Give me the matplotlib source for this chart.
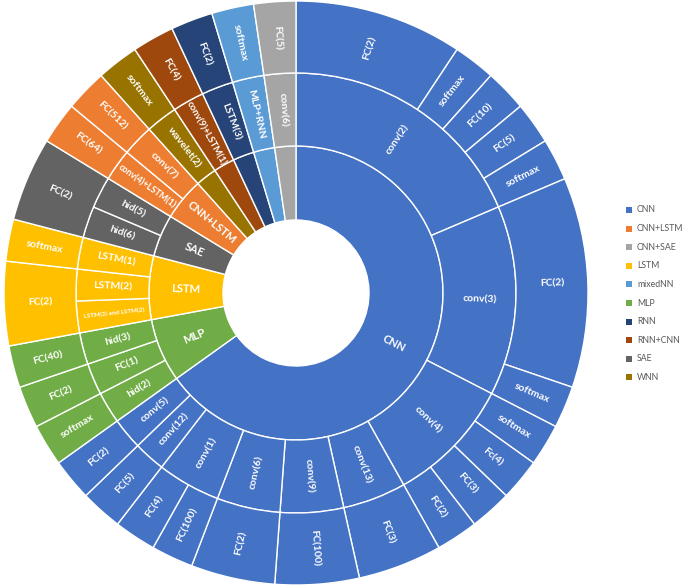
import matplotlib
matplotlib.use('Agg')
import matplotlib.pyplot as plt
from matplotlib.patches import Wedge, Rectangle
import numpy as np

# ---- data (clockwise from 12 o'clock) ----
groups = ['CNN', 'MLP', 'LSTM', 'SAE', 'CNN+LSTM', 'WNN', 'RNN+CNN', 'RNN', 'mixedNN', 'CNN+SAE']
group_values = [28, 3, 3, 2, 2, 1, 1, 1, 1, 1]

layer_labels = ['conv(2)', 'conv(3)', 'conv(4)', 'conv(13)', 'conv(9)', 'conv(6)', 'conv(1)', 'conv(12)', 'conv(5)',
                'hid(2)', 'FC(1)', 'hid(3)',
                'LSTM(3) and LSTM(2)', 'LSTM(2)', 'LSTM(1)',
                'hid(6)', 'hid(5)',
                'conv(4)+LSTM(1)', 'conv(7)',
                'wavelet(2)', 'conv(9)+LSTM(1)', 'LSTM(3)', 'MLP+RNN', 'conv(6)']
layer_values = [8, 6, 4, 2, 2, 2, 2, 1, 1,
                1, 1, 1,
                1, 1, 1,
                1, 1,
                1, 1,
                1, 1, 1, 1, 1]

out_labels = ['FC(2)', 'softmax', 'FC(10)', 'FC(5)', 'softmax', 'FC(2)', 'softmax', 'softmax', 'Fc(4)', 'FC(3)',
              'FC(2)', 'FC(3)', 'FC(100)', 'FC(2)', 'FC(100)', 'FC(4)', 'FC(5)', 'FC(2)',
              'softmax', 'FC(2)', 'FC(40)',
              'FC(2)', 'softmax',
              'FC(2)',
              'FC(64)', 'FC(512)',
              'softmax', 'FC(4)', 'FC(2)', 'softmax', 'FC(5)']
out_values = [4, 1, 1, 1, 1, 5, 1, 1, 1, 1,
              1, 2, 2, 2, 1, 1, 1, 1,
              1, 1, 1,
              2, 1,
              2,
              1, 1,
              1, 1, 1, 1, 1]

legend_labels = ['CNN', 'CNN+LSTM', 'CNN+SAE', 'LSTM', 'mixedNN', 'MLP', 'RNN', 'RNN+CNN', 'SAE', 'WNN']
legend_colors = ['#4472C4', '#ED7D31', '#A5A5A5', '#FFC000', '#5B9BD5', '#70AD47', '#264478', '#9E480E', '#636363', '#997300']
color_of = dict(zip(legend_labels, legend_colors))

# ---- drawing ----
plt.rcParams['font.family'] = ['Lato', 'DejaVu Sans']
fig = plt.figure(figsize=(6.88, 5.87), dpi=100)
ax = fig.add_axes([0, 0, 1, 1])
ax.set_xlim(0, 688)
ax.set_ylim(0, 587)
ax.set_aspect('equal')
ax.axis('off')

cx, cy = 296, 294
radii = [73, 147, 220, 292]
total = sum(group_values)
unit = 360.0 / total

grp_bounds = np.concatenate([[0], np.cumsum(group_values)])


def group_at(start):
    i = np.searchsorted(grp_bounds, start, side='right') - 1
    return groups[i]


def draw_ring(labels, values, r0, r1, fsizes, min_value=0):
    pos = 0
    for lab, v in zip(labels, values):
        b1 = pos * unit
        b2 = (pos + v) * unit
        col = color_of[group_at(pos)]
        w = Wedge((cx, cy), r1, 90 - b2, 90 - b1, width=r1 - r0,
                  facecolor=col, edgecolor='white', linewidth=1.0)
        ax.add_patch(w)
        if v >= min_value:
            bm = (b1 + b2) / 2
            rm = (r0 + r1) / 2
            th = np.radians(90 - bm)
            x = cx + rm * np.cos(th)
            y = cy + rm * np.sin(th)
            rot = 90 - bm
            while rot <= -90:
                rot += 180
            while rot > 90:
                rot -= 180
            fs = fsizes.get(lab, fsizes['default'])
            ax.text(x, y, lab, rotation=rot, rotation_mode='anchor', ha='center', va='center',
                    color='white', fontsize=fs, fontweight='bold')
        pos += v


draw_ring(groups, group_values, radii[0], radii[1], {'default': 8}, min_value=2)
draw_ring(layer_labels, layer_values, radii[1], radii[2],
          {'default': 7.5, 'LSTM(3) and LSTM(2)': 4.6, 'conv(4)+LSTM(1)': 6.5, 'conv(9)+LSTM(1)': 6.8})
draw_ring(out_labels, out_values, radii[2], radii[3], {'default': 7.5})

# legend
ly0 = 587 - 210
for i, (lab, col) in enumerate(zip(legend_labels, legend_colors)):
    y = ly0 - i * 18.6
    ax.add_patch(Rectangle((625.5, y - 3), 6, 6, facecolor=col, edgecolor='none'))
    ax.text(637, y, lab, fontsize=6.3, color='#595959', va='center', ha='left')

fig.savefig('out.png', dpi=100, facecolor='white')
